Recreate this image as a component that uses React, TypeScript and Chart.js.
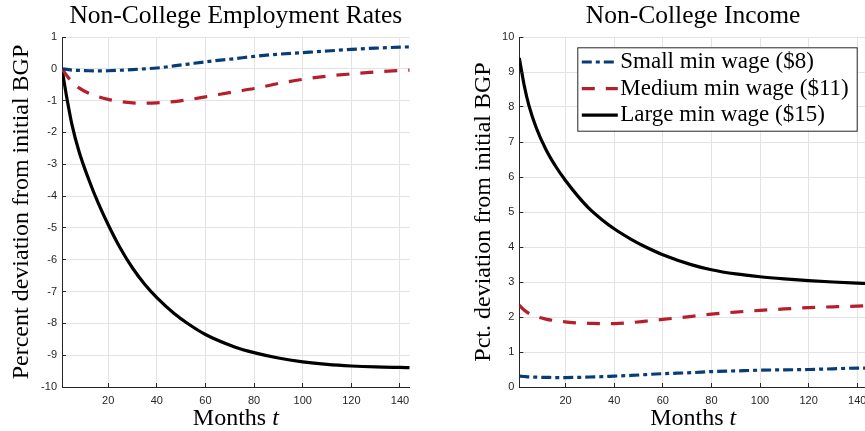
import React, { useEffect, useRef } from "react";
import { Chart, registerables } from "chart.js";

Chart.register(...registerables);

// ---------- data ----------
const months = [1, 3, 5, 8, 12, 16, 20, 25, 30, 35, 40, 47, 53, 60, 72, 80, 90, 100, 110, 120, 130, 140, 144];

const empSmall = [0, -0.02, -0.04, -0.05, -0.06, -0.065, -0.06, -0.045, -0.025, 0, 0.025, 0.09, 0.15, 0.22, 0.32, 0.39, 0.46, 0.51, 0.56, 0.61, 0.65, 0.68, 0.69];
const empMedium = [0, -0.22, -0.4, -0.6, -0.77, -0.88, -0.96, -1.03, -1.07, -1.08, -1.07, -1.03, -0.97, -0.88, -0.72, -0.62, -0.46, -0.33, -0.23, -0.16, -0.1, -0.05, -0.04];
const empLarge = [0, -0.92, -1.72, -2.6, -3.48, -4.24, -4.9, -5.64, -6.26, -6.77, -7.19, -7.68, -8.02, -8.35, -8.74, -8.92, -9.09, -9.21, -9.29, -9.34, -9.37, -9.385, -9.39];

const incSmall = [0.31, 0.3, 0.29, 0.28, 0.275, 0.27, 0.27, 0.275, 0.285, 0.295, 0.31, 0.33, 0.355, 0.38, 0.41, 0.44, 0.46, 0.48, 0.49, 0.5, 0.52, 0.54, 0.54];
const incMedium = [2.34, 2.2, 2.1, 2.01, 1.94, 1.89, 1.86, 1.83, 1.82, 1.81, 1.81, 1.84, 1.88, 1.93, 2.02, 2.08, 2.14, 2.19, 2.23, 2.27, 2.29, 2.31, 2.32];
const incLarge = [9.4, 8.62, 8.03, 7.4, 6.78, 6.3, 5.9, 5.46, 5.08, 4.78, 4.52, 4.22, 4.0, 3.78, 3.49, 3.35, 3.23, 3.15, 3.09, 3.04, 3.0, 2.97, 2.96];

const xTicks = [20, 40, 60, 80, 100, 120, 140];
const empRange = [-10, 1];
const incRange = [0, 10];

const seriesLabels = ["Small min wage ($8)", "Medium min wage ($11)", "Large min wage ($15)"];
const panelTitles = ["Non-College Employment Rates", "Non-College Income"];
const yTitles = ["Percent deviation from initial BGP", "Pct. deviation from initial BGP"];
const xTitleWord = "Months";
const xTitleVar = "t";

// ---------- styles ----------
const COLORS = ["#063d79", "#b51f2c", "#000000"];
const DASHES: number[][] = [[10, 4, 4, 4], [13, 11], []];
const AXIS = "#262626";
const GRID = "#e3e3e3";
const SERIF = '"Liberation Serif", "Times New Roman", serif';
const SANS = '"Liberation Sans", Arial, sans-serif';

function align(p: number) {
  return Math.round(p - 0.5) + 0.5;
}

function makeOverlay(opts: {
  title: string;
  yTitle: string;
  yTitleX: number;
  legend: null | { x: number; y: number; w: number; h: number };
}) {
  return {
    id: "overlay",
    afterDraw(chart: any) {
      const ctx: CanvasRenderingContext2D = chart.ctx;
      const ca = chart.chartArea;
      const xs = chart.scales.x;
      const ys = chart.scales.y;
      ctx.save();
      // inward tick marks
      ctx.strokeStyle = AXIS;
      ctx.lineWidth = 1;
      ctx.beginPath();
      for (const v of xTicks) {
        const px = align(xs.getPixelForValue(v));
        ctx.moveTo(px, ca.bottom);
        ctx.lineTo(px, ca.bottom - 4);
      }
      for (const t of ys.ticks) {
        const py = align(ys.getPixelForValue(t.value));
        ctx.moveTo(ca.left, py);
        ctx.lineTo(ca.left + 4, py);
      }
      ctx.stroke();

      const cx = (ca.left + ca.right) / 2;
      ctx.fillStyle = "#000";
      ctx.textBaseline = "alphabetic";
      // title
      ctx.font = `25.5px ${SERIF}`;
      ctx.textAlign = "center";
      ctx.fillText(opts.title, cx, 23);

      // x title with italic variable
      ctx.font = `24px ${SERIF}`;
      const w1 = ctx.measureText(xTitleWord + " ").width;
      ctx.font = `italic 24px ${SERIF}`;
      const w2 = ctx.measureText(xTitleVar).width;
      const start = cx - (w1 + w2) / 2;
      ctx.textAlign = "left";
      ctx.font = `24px ${SERIF}`;
      ctx.fillText(xTitleWord + " ", start, 425);
      ctx.font = `italic 24px ${SERIF}`;
      ctx.fillText(xTitleVar, start + w1, 425);

      // y title
      ctx.save();
      ctx.translate(opts.yTitleX, (ca.top + ca.bottom) / 2);
      ctx.rotate(-Math.PI / 2);
      ctx.textAlign = "center";
      ctx.font = `24px ${SERIF}`;
      ctx.fillText(opts.yTitle, 0, 0);
      ctx.restore();

      // legend
      if (opts.legend) {
        const L = opts.legend;
        ctx.fillStyle = "#fff";
        ctx.fillRect(L.x, L.y, L.w, L.h);
        ctx.strokeStyle = AXIS;
        ctx.lineWidth = 1;
        ctx.strokeRect(L.x + 0.5, L.y + 0.5, L.w, L.h);
        const rowH = 26.6;
        for (let i = 0; i < seriesLabels.length; i++) {
          const yc = L.y + 14.7 + rowH * i;
          ctx.beginPath();
          ctx.strokeStyle = COLORS[i];
          ctx.lineWidth = 3.2;
          ctx.setLineDash(DASHES[i]);
          ctx.lineCap = "butt";
          ctx.moveTo(L.x + 4.5, yc);
          ctx.lineTo(L.x + 40.5, yc);
          ctx.stroke();
          ctx.setLineDash([]);
          ctx.fillStyle = "#000";
          ctx.font = `23px ${SERIF}`;
          ctx.textAlign = "left";
          ctx.fillText(seriesLabels[i], L.x + 43, yc + 6);
        }
      }
      ctx.restore();
    },
  };
}

function buildConfig(
  series: number[][],
  range: number[],
  yAxisWidth: number,
  padRight: number,
  overlay: any
): any {
  const yTickVals: number[] = [];
  for (let v = range[1]; v >= range[0]; v--) yTickVals.push(v);
  return {
    type: "line",
    data: {
      datasets: series.map((vals, i) => ({
        label: seriesLabels[i],
        data: months.map((m, j) => ({ x: m, y: vals[j] })),
        borderColor: COLORS[i],
        borderWidth: 3.2,
        borderDash: DASHES[i],
        borderCapStyle: "butt",
        pointRadius: 0,
        fill: false,
        cubicInterpolationMode: "monotone",
      })),
    },
    options: {
      animation: false,
      responsive: false,
      devicePixelRatio: 1,
      layout: { padding: { top: 37, right: padRight, left: 0, bottom: 0 } },
      plugins: { legend: { display: false }, tooltip: { enabled: false }, title: { display: false } },
      scales: {
        x: {
          type: "linear",
          min: 1,
          max: 144,
          afterBuildTicks: (s: any) => {
            s.ticks = xTicks.map((v) => ({ value: v }));
          },
          afterFit: (s: any) => {
            s.height = 44;
          },
          grid: { color: GRID, lineWidth: 1, drawTicks: false },
          border: { display: true, color: AXIS, width: 1 },
          ticks: {
            autoSkip: false,
            maxRotation: 0,
            padding: 7,
            color: AXIS,
            font: { family: SANS, size: 11 },
            callback: (v: any) => String(v),
          },
        },
        y: {
          type: "linear",
          min: range[0],
          max: range[1],
          afterBuildTicks: (s: any) => {
            s.ticks = yTickVals.map((v) => ({ value: v }));
          },
          afterFit: (s: any) => {
            s.width = yAxisWidth;
          },
          grid: { color: GRID, lineWidth: 1, drawTicks: false },
          border: { display: true, color: AXIS, width: 1 },
          ticks: {
            padding: 5,
            color: AXIS,
            font: { family: SANS, size: 11 },
            callback: (v: any) => String(v),
          },
        },
      },
    },
    plugins: [overlay],
  };
}

export default function App() {
  const leftRef = useRef<HTMLCanvasElement | null>(null);
  const rightRef = useRef<HTMLCanvasElement | null>(null);

  useEffect(() => {
    if (!leftRef.current || !rightRef.current) return;
    const left = new Chart(
      leftRef.current,
      buildConfig(
        [empSmall, empMedium, empLarge],
        empRange,
        62,
        30.3,
        makeOverlay({ title: panelTitles[0], yTitle: yTitles[0], yTitleX: 28, legend: null })
      )
    );
    const right = new Chart(
      rightRef.current,
      buildConfig(
        [incSmall, incMedium, incLarge],
        incRange,
        79.3,
        13,
        makeOverlay({
          title: panelTitles[1],
          yTitle: yTitles[1],
          yTitleX: 50,
          legend: { x: 137.3, y: 47.3, w: 279.4, h: 83.4 },
        })
      )
    );
    return () => {
      left.destroy();
      right.destroy();
    };
  }, []);

  return (
    <div
      style={{
        position: "fixed",
        left: 0,
        top: 0,
        width: 865,
        height: 431,
        overflow: "hidden",
        background: "#fff",
      }}
    >
      <canvas
        ref={leftRef}
        width={440}
        height={431}
        style={{ position: "absolute", left: 0, top: 0, width: 440, height: 431 }}
      />
      <canvas
        ref={rightRef}
        width={440}
        height={431}
        style={{ position: "absolute", left: 440, top: 0, width: 440, height: 431 }}
      />
    </div>
  );
}
